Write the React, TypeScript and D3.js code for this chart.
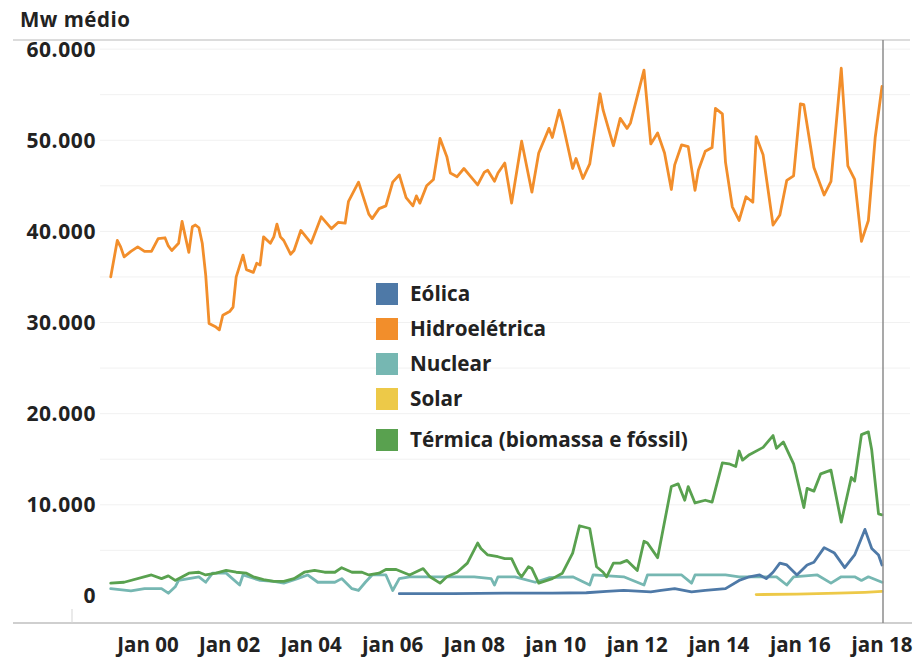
import React from "react";
import * as d3 from "d3";

const W = 915;
const H = 657;

const yTicks = [0, 10000, 20000, 30000, 40000, 50000, 60000];
const xTickMonths = ["2000-01", "2002-01", "2004-01", "2006-01", "2008-01", "2010-01", "2012-01", "2014-01", "2016-01", "2018-01"];
const xTickLabels = ["Jan 00", "Jan 02", "Jan 04", "jan 06", "Jan 08", "jan 10", "jan 12", "jan 14", "jan 16", "jan 18"];

const seriesNames = ["Eólica", "Hidroelétrica", "Nuclear", "Solar", "Térmica (biomassa e fóssil)"];
const seriesColors = ["#4e79a7", "#f28e2b", "#76b7b2", "#edc948", "#59a14f"];

// Hidroelétrica (MW médio)
const hidroMonths = [
  "1999-02","1999-04","1999-05","1999-06","1999-08","1999-10","1999-12",
  "2000-02","2000-04","2000-06","2000-07","2000-08","2000-10","2000-11","2000-12",
  "2001-01","2001-02","2001-03","2001-04","2001-05","2001-06","2001-07","2001-09","2001-10","2001-11",
  "2002-01","2002-02","2002-03","2002-05","2002-06","2002-08","2002-09","2002-10","2002-11",
  "2003-01","2003-02","2003-03","2003-04","2003-05","2003-07","2003-08","2003-10",
  "2004-01","2004-04","2004-07","2004-09","2004-11","2004-12",
  "2005-03","2005-06","2005-07","2005-09","2005-11",
  "2006-01","2006-03","2006-05","2006-07","2006-08","2006-09","2006-11",
  "2007-01","2007-03","2007-05","2007-06","2007-08","2007-10","2007-12",
  "2008-02","2008-04","2008-05","2008-07","2008-08","2008-10","2008-12",
  "2009-03","2009-06","2009-08","2009-11","2009-12",
  "2010-02","2010-03","2010-06","2010-07","2010-09","2010-11",
  "2011-02","2011-03","2011-06","2011-08","2011-10","2011-11",
  "2012-03","2012-05","2012-07","2012-09","2012-11","2012-12",
  "2013-02","2013-04","2013-06","2013-07","2013-09","2013-11","2013-12",
  "2014-02","2014-03","2014-05","2014-07","2014-09","2014-11","2014-12",
  "2015-02","2015-05","2015-07","2015-09","2015-11",
  "2016-01","2016-02","2016-05","2016-08","2016-10",
  "2017-01","2017-03","2017-05","2017-07","2017-09","2017-11","2018-01",
];
const hidroValues = [
  35000,39000,38300,37200,37800,38300,37800,
  37800,39200,39300,38400,37900,38700,41100,39400,
  37700,40500,40700,40400,38700,35200,29900,29500,29200,30800,
  31200,31700,35000,37400,35800,35500,36500,36300,39400,
  38700,39400,40800,39400,39000,37500,37900,40100,
  38700,41600,40300,41000,40900,43300,
  45400,41900,41400,42500,42800,
  45400,46200,43700,42800,43900,43100,45000,
  45700,50200,48200,46400,46000,46900,46000,
  45100,46500,46700,45500,46400,47500,43100,
  49900,44300,48600,51300,50300,
  53300,52000,46900,48000,45800,47400,
  55100,53300,49400,52400,51300,51900,
  57700,49600,50800,48600,44600,47300,
  49500,49300,44500,46700,48800,49200,53500,
  52900,47600,42700,41200,43800,43200,50400,
  48400,40700,41800,45600,46100,
  54000,53900,47000,44000,45500,
  57900,47200,45700,38900,41200,50300,55900,
];

// Térmica (biomassa e fóssil)
const termicaMonths = [
  "1999-02","1999-06",
  "2000-02","2000-05","2000-07","2000-09",
  "2001-01","2001-04","2001-06","2001-09","2001-12",
  "2002-03","2002-06","2002-08","2002-11",
  "2003-02","2003-05","2003-08","2003-11",
  "2004-02","2004-05","2004-08","2004-10",
  "2005-01","2005-04","2005-06","2005-09","2005-11",
  "2006-02","2006-06","2006-10","2006-12",
  "2007-03","2007-05","2007-08","2007-11",
  "2008-02","2008-03","2008-05","2008-08","2008-10","2008-12",
  "2009-02","2009-03","2009-05","2009-06","2009-08","2009-12",
  "2010-03","2010-06","2010-08","2010-11",
  "2011-01","2011-03","2011-04","2011-06","2011-08","2011-10",
  "2012-01","2012-03","2012-04","2012-07","2012-11",
  "2013-01","2013-03","2013-04","2013-06","2013-09","2013-11",
  "2014-02","2014-04","2014-06","2014-07","2014-08","2014-10",
  "2015-02","2015-05","2015-06","2015-08","2015-11",
  "2016-02","2016-03","2016-05","2016-07","2016-10",
  "2017-01","2017-04","2017-05","2017-07","2017-09","2017-10","2017-12","2018-01",
];
const termicaValues = [
  1400,1500,
  2300,1900,2200,1700,
  2500,2600,2300,2500,2800,
  2600,2500,2100,1800,
  1600,1600,1900,2600,
  2800,2600,2600,3100,
  2600,2600,2300,2500,2900,
  2900,2300,3000,2100,
  1400,2100,2600,3600,
  5800,5200,4500,4300,4100,4100,
  2500,2100,3200,3000,1400,1900,
  2500,4700,7700,7400,
  3200,2600,2100,3600,3600,3900,
  2800,6000,5800,4200,12000,
  12300,10500,12000,10200,10500,10300,
  14600,14500,14200,15900,14900,15500,
  16300,17600,16200,16900,14500,
  9700,11800,11500,13400,13800,
  8100,13000,12600,17700,18000,16000,9000,8900,
];

// Nuclear
const nuclearMonths = [
  "1999-02","1999-08","1999-12",
  "2000-05","2000-07","2000-09","2000-10",
  "2001-04","2001-06","2001-08","2001-12",
  "2002-04","2002-05","2002-10",
  "2003-02","2003-05","2003-09","2003-12",
  "2004-03","2004-08","2004-10",
  "2005-01","2005-03","2005-05","2005-07","2005-11",
  "2006-01","2006-03","2006-06",
  "2007-08","2008-01","2008-06","2008-07","2008-08",
  "2009-01","2009-07","2009-11",
  "2010-06","2010-11","2010-12",
  "2011-09","2012-03","2012-04",
  "2013-02","2013-05","2013-06",
  "2014-03","2014-07",
  "2015-06","2015-09","2015-11",
  "2016-06","2016-10",
  "2017-01","2017-05","2017-07","2017-09","2018-01",
];
const nuclearValues = [
  800,550,800,
  800,300,1000,1700,
  2100,1500,2500,2500,
  1200,2300,1700,
  1600,1400,1900,2300,
  1500,1500,1900,
  800,600,1500,2300,2300,
  600,1900,2100,
  2100,2100,1900,1200,2100,
  2100,1500,2000,
  2100,1200,2300,
  2100,1200,2300,
  2300,1400,2300,
  2300,2100,
  2100,1200,2100,
  2300,1400,
  2100,2100,1700,2100,1500,
];

// Eólica
const eolicaMonths = [
  "2006-03","2007-07","2008-10","2009-12","2010-10","2011-04","2011-09",
  "2012-05","2012-08","2012-12","2013-05","2013-09",
  "2014-03","2014-07","2014-10","2015-01","2015-03","2015-05","2015-07","2015-09","2015-12",
  "2016-03","2016-05","2016-08","2016-11",
  "2017-02","2017-05","2017-08","2017-10","2017-12","2018-01",
];
const eolicaValues = [
  250,250,300,300,350,500,600,
  450,600,800,450,600,
  800,1700,2100,2300,1900,2600,3600,3400,2300,
  3400,3700,5300,4700,
  3100,4500,7300,5200,4500,3400,
];

// Solar
const solarMonths = ["2014-12", "2015-12", "2016-12", "2017-08", "2018-01"];
const solarValues = [150, 200, 300, 400, 500];

const parseMonth = d3.timeParse("%Y-%m");

export default function App() {
  const x = d3
    .scaleTime()
    .domain([parseMonth("2000-01") as Date, parseMonth("2018-01") as Date])
    .range([148, 882]);
  const y = d3.scaleLinear().domain([-2970, 61000]).range([623, 40]);

  const line = d3
    .line<[Date, number]>()
    .x((d) => x(d[0]))
    .y((d) => y(d[1]));

  const mk = (months: string[], values: number[]) =>
    months.map((m, i) => [parseMonth(m) as Date, values[i]] as [Date, number]);

  const series = [
    { name: seriesNames[2], color: seriesColors[2], data: mk(nuclearMonths, nuclearValues) },
    { name: seriesNames[4], color: seriesColors[4], data: mk(termicaMonths, termicaValues) },
    { name: seriesNames[0], color: seriesColors[0], data: mk(eolicaMonths, eolicaValues) },
    { name: seriesNames[3], color: seriesColors[3], data: mk(solarMonths, solarValues) },
    { name: seriesNames[1], color: seriesColors[1], data: mk(hidroMonths, hidroValues) },
  ];

  const gridVals = d3.range(5000, 60001, 5000);
  const font = "'Open Sans', sans-serif";
  const xEnd = x(parseMonth("2018-01") as Date) + 1;
  const ink = "#222";

  return (
    <svg
      width={W}
      height={H}
      style={{ position: "absolute", left: 0, top: 0, background: "#fff" }}
      fontFamily={font}
    >
      <rect x={0} y={0} width={W} height={H} fill="#fff" />
      <text x={20} y={27} fontSize={20.5} fontWeight={700} letterSpacing={0.5} fill={ink}>
        Mw médio
      </text>
      {gridVals.map((v) => (
        <line key={v} x1={100} x2={910} y1={y(v)} y2={y(v)} stroke="#f1f1f1" strokeWidth={1} />
      ))}
      <line x1={13} x2={910} y1={40} y2={40} stroke="#dcdcdc" strokeWidth={2} />
      <line x1={13} x2={912} y1={623} y2={623} stroke="#cfcfcf" strokeWidth={2} />
      <line x1={72} x2={72} y1={609} y2={623} stroke="#d5d5d5" strokeWidth={1} />
      {yTicks.map((v) => (
        <text
          key={v}
          x={96}
          y={y(v)}
          dy="0.36em"
          textAnchor="end"
          fontSize={21}
          fontWeight={700}
          letterSpacing={0.6}
          fill={ink}
        >
          {d3.format(",")(v).replace(/,/g, ".")}
        </text>
      ))}
      {xTickMonths.map((m, i) => (
        <text
          key={m}
          x={x(parseMonth(m) as Date)}
          y={652}
          textAnchor="middle"
          fontSize={20.5}
          fontWeight={700}
          fill={ink}
        >
          {xTickLabels[i]}
        </text>
      ))}
      {series.map((s) => (
        <path
          key={s.name}
          d={line(s.data) || ""}
          fill="none"
          stroke={s.color}
          strokeWidth={2.8}
          strokeLinejoin="round"
          strokeLinecap="round"
        />
      ))}
      <line x1={xEnd} x2={xEnd} y1={40} y2={623} stroke="#8c8c8c" strokeWidth={1.5} />
      {seriesNames.map((n, i) => {
        const cy = 294 + i * 35 + (i === 4 ? 6 : 0);
        return (
          <g key={n}>
            <rect x={376} y={cy - 11} width={22} height={22} fill={seriesColors[i]} />
            <text x={410} y={cy} dy="0.36em" fontSize={20.7} fontWeight={700} fill={ink}>
              {n}
            </text>
          </g>
        );
      })}
    </svg>
  );
}
